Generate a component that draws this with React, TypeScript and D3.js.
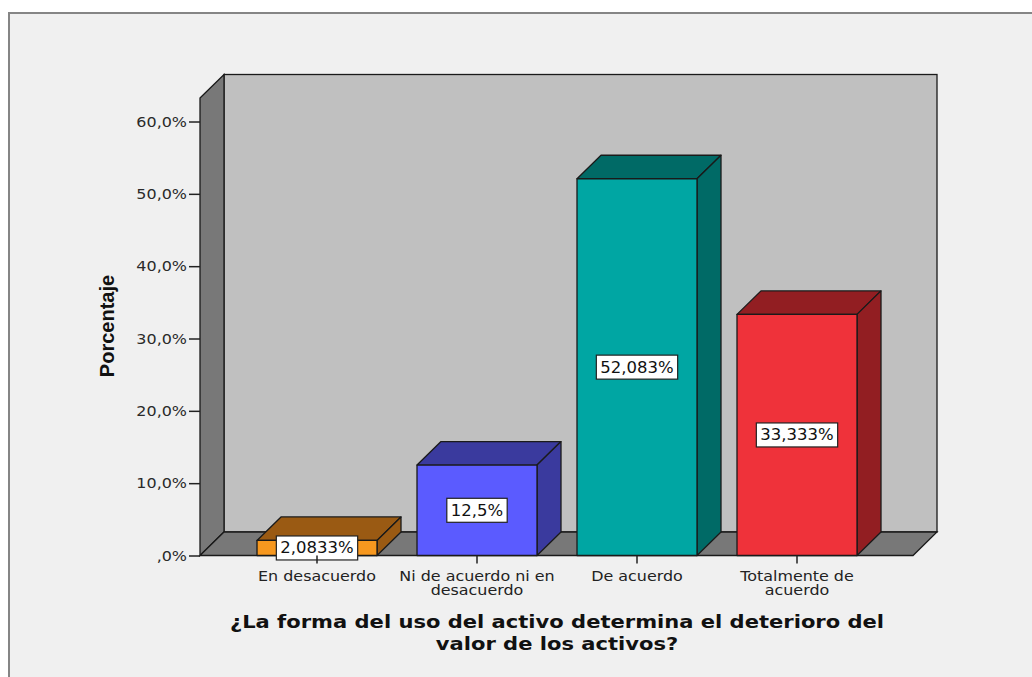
import React, { useRef, useEffect } from 'react'
import * as d3 from 'd3'

// Percentages per answer category
const CATEGORIES = ['En desacuerdo', 'Ni de acuerdo ni en desacuerdo', 'De acuerdo', 'Totalmente de acuerdo']
const CATEGORY_LINES = [['En desacuerdo'], ['Ni de acuerdo ni en', 'desacuerdo'], ['De acuerdo'], ['Totalmente de', 'acuerdo']]
const VALUES = [2.0833, 12.5, 52.083, 33.333]
const Y_TICKS = [0, 10, 20, 30, 40, 50, 60]
const FRONT_COLORS = ['#f7981f', '#5b5bff', '#00a6a3', '#ef323a']
const SHADE_COLORS = ['#9a5a13', '#3a3a9e', '#006a66', '#921e22']
const TITLE_LINES = ['¿La forma del uso del activo determina el deterioro del', 'valor de los activos?']

const W = 1032
const H = 677
const DX = 24
const DY = -23.5
const HS = 1.1 // the source renders its text a little wider than DejaVu

const fmtTick = (v: number) => (v === 0 ? ',0%' : v.toFixed(1).replace('.', ',') + '%')
const fmtValue = (v: number) => String(v).replace('.', ',') + '%'

export default function App() {
  const svgRef = useRef<SVGSVGElement>(null)

  useEffect(() => {
    if (!svgRef.current) return
    const svg = d3.select(svgRef.current)
    svg.selectAll('*').remove()

    const left = 200
    const right = 913
    const y = d3.scaleLinear().domain([0, 63.25]).range([555.5, 98])
    const x = d3.scaleBand<string>().domain(CATEGORIES).range([237, 877]).paddingInner(0.25).paddingOuter(0.125)
    const y0 = y(0)
    const yTop = y(63.25)

    // background + frame
    svg.append('rect').attr('width', W).attr('height', H).attr('fill', '#ffffff')
    svg.append('rect').attr('x', 9).attr('y', 13).attr('width', W + 10).attr('height', H + 10)
      .attr('fill', '#f0f0f0').attr('stroke', '#858585').attr('stroke-width', 2)

    const pt = (a: number, b: number) => `${a},${b}`
    const stroke = { color: '#1a1a1a', width: 1.3 }

    // back wall
    svg.append('rect').attr('x', left + DX).attr('y', yTop + DY)
      .attr('width', right - left).attr('height', y0 - yTop)
      .attr('fill', '#c0c0c0').attr('stroke', stroke.color).attr('stroke-width', stroke.width)
    // side wall
    svg.append('polygon')
      .attr('points', [pt(left, yTop), pt(left + DX, yTop + DY), pt(left + DX, y0 + DY), pt(left, y0)].join(' '))
      .attr('fill', '#787878').attr('stroke', stroke.color).attr('stroke-width', stroke.width)
    // floor
    svg.append('polygon')
      .attr('points', [pt(left, y0), pt(left + DX, y0 + DY), pt(right + DX, y0 + DY), pt(right, y0)].join(' '))
      .attr('fill', '#787878').attr('stroke', stroke.color).attr('stroke-width', stroke.width)

    // y axis
    const yAxis = d3.axisLeft(y).tickValues(Y_TICKS).tickFormat(d => fmtTick(+d)).tickSize(11).tickPadding(2)
    const ag = svg.append('g').attr('transform', `translate(${left},0)`).call(yAxis)
    ag.select('.domain').remove()
    ag.selectAll('line').attr('stroke', '#222').attr('stroke-width', 1.5)
    ag.selectAll('text')
      .attr('fill', '#2a2a2a').attr('font-family', 'DejaVu Sans').attr('font-size', 14.5)
      .attr('transform', function () {
        const t = d3.select(this)
        const tx = +t.attr('x')
        return `translate(${tx},0) scale(${HS},1) translate(${-tx},0)`
      })

    // bars
    const bars = svg.append('g')
    VALUES.forEach((v, i) => {
      const x0 = x(CATEGORIES[i]) as number
      const x1 = x0 + x.bandwidth()
      const yt = y(v)
      const g = bars.append('g').attr('stroke', stroke.color).attr('stroke-width', stroke.width).attr('stroke-linejoin', 'round')
      g.append('polygon')
        .attr('points', [pt(x0, yt), pt(x0 + DX, yt + DY), pt(x1 + DX, yt + DY), pt(x1, yt)].join(' '))
        .attr('fill', SHADE_COLORS[i])
      g.append('polygon')
        .attr('points', [pt(x1, yt), pt(x1 + DX, yt + DY), pt(x1 + DX, y0 + DY), pt(x1, y0)].join(' '))
        .attr('fill', SHADE_COLORS[i])
      g.append('rect').attr('x', x0).attr('y', yt).attr('width', x1 - x0).attr('height', y0 - yt)
        .attr('fill', FRONT_COLORS[i])
    })

    // value labels
    VALUES.forEach((v, i) => {
      const cx = (x(CATEGORIES[i]) as number) + x.bandwidth() / 2
      const cy = (y(v) + y0) / 2
      const g = svg.append('g').attr('transform', `translate(${cx},${cy})`)
      const box = g.append('rect').attr('fill', '#ffffff').attr('stroke', '#222').attr('stroke-width', 1.2)
      const t = g.append('text').text(fmtValue(v))
        .attr('text-anchor', 'middle').attr('dy', '0.36em')
        .attr('font-family', 'DejaVu Sans').attr('font-size', 15).attr('fill', '#111')
        .attr('transform', `scale(${HS},1)`)
      const tw = (t.node() as SVGTextElement).getComputedTextLength() * HS
      box.attr('x', -tw / 2 - 4).attr('y', -12).attr('width', tw + 8).attr('height', 24)
    })

    // category ticks + labels
    CATEGORIES.forEach((c, i) => {
      const cx = (x(c) as number) + x.bandwidth() / 2
      svg.append('line').attr('x1', cx).attr('x2', cx).attr('y1', y0).attr('y2', y0 + 8)
        .attr('stroke', '#222').attr('stroke-width', 1.5)
      CATEGORY_LINES[i].forEach((line, j) => {
        svg.append('text').text(line)
          .attr('transform', `translate(${cx},${581 + j * 14}) scale(1.18,1)`)
          .attr('text-anchor', 'middle')
          .attr('font-family', 'DejaVu Sans').attr('font-size', 13.5).attr('fill', '#222')
      })
    })

    // axis titles
    svg.append('text').text('Porcentaje')
      .attr('transform', `translate(114,326) rotate(-90)`)
      .attr('text-anchor', 'middle')
      .attr('font-family', 'Liberation Sans').attr('font-weight', 'bold').attr('font-size', 20).attr('fill', '#111')

    TITLE_LINES.forEach((line, j) => {
      svg.append('text').text(line)
        .attr('transform', `translate(557,${628 + j * 22}) scale(1.17,1)`)
        .attr('text-anchor', 'middle')
        .attr('font-family', 'DejaVu Sans').attr('font-weight', 'bold').attr('font-size', 18).attr('fill', '#111')
    })
  }, [])

  return <svg ref={svgRef} width={W} height={H} style={{ position: 'absolute', left: 0, top: 0 }} />
}
